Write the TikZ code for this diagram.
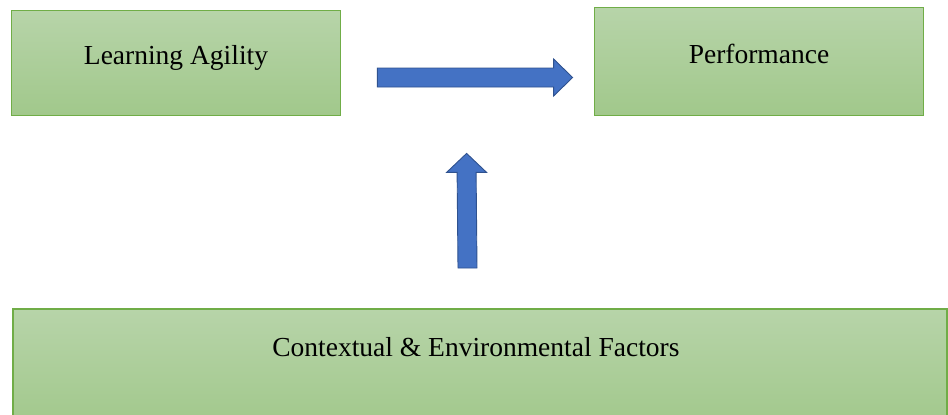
\documentclass[tikz,border=0pt]{standalone}
\usepackage{fontspec}
\setmainfont{Liberation Serif}
\usetikzlibrary{calc}
\definecolor{boxline}{HTML}{70AD47}
\definecolor{boxtop}{HTML}{B7D4A9}
\definecolor{boxbot}{HTML}{A1C88B}
\definecolor{arrowfill}{HTML}{4472C4}
\definecolor{arrowline}{HTML}{2F528F}
\newcommand{\boxfont}{\fontsize{27.5}{30}\selectfont}

\begin{document}
\begin{tikzpicture}[
  x=1pt, y=-1pt,
  factor/.style={draw=boxline, line width=1.8pt, top color=boxtop, bottom color=boxbot,
    inner sep=0pt, font=\boxfont, text height=0.68em, text depth=0.3em},
  blockarrow/.style={draw=arrowline, line width=0.9pt, fill=arrowfill, line join=miter},
]
\useasboundingbox (0,0) rectangle (948,415);

\node[factor, minimum width=329pt, minimum height=105pt] (la)   at (176,63)   {Learning Agility};
\node[factor, minimum width=329pt, minimum height=108pt] (perf) at (759,61.5) {Performance};
\node[factor, minimum width=934pt, minimum height=120pt, anchor=north west,
  label={[font=\boxfont, anchor=center, xshift=-4pt, yshift=-39.5pt]north:Contextual \& Environmental Factors}]
  (ctx) at (12,308) {};

% free ends of the block arrows
\coordinate (rtail) at ($(la.east)+(36,14.5)$);
\coordinate (rtip)  at ($(perf.west)+(-21,16)$);
\coordinate (utail) at ($(ctx.north west)+(455.5,-40)$);
\coordinate (utip)  at ($(perf.south west)+(-127,37)$);

\draw[blockarrow] ($(rtail)+(0,-9.5)$) -- ($(rtip)+(-19,-9.5)$) -- ($(rtip)+(-19,-18.5)$)
  -- (rtip) -- ($(rtip)+(-19,18.5)$) -- ($(rtip)+(-19,9.5)$) -- ($(rtail)+(0,9.5)$) -- cycle;
\draw[blockarrow] ($(utail)+(-9.5,0)$) -- ($(utip)+(-9.5,19)$) -- ($(utip)+(-20,19)$)
  -- (utip) -- ($(utip)+(20,19)$) -- ($(utip)+(9.5,19)$) -- ($(utail)+(9.5,0)$) -- cycle;
\end{tikzpicture}
\end{document}
